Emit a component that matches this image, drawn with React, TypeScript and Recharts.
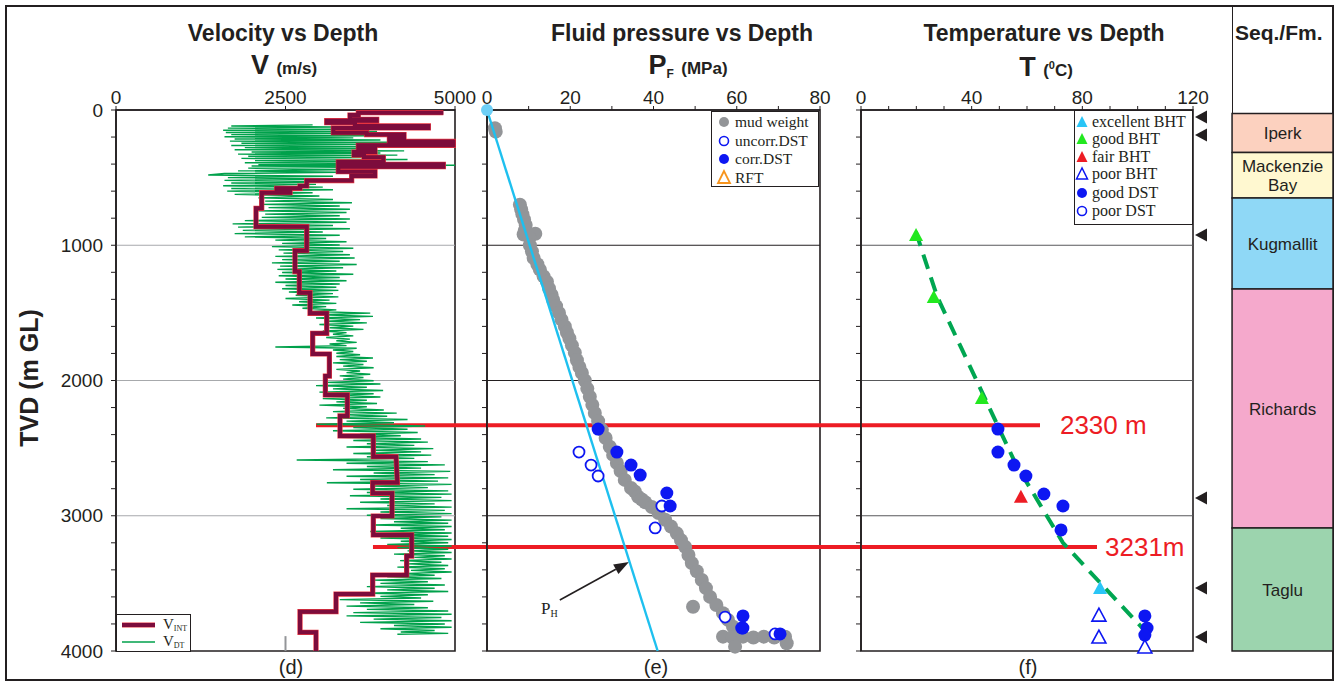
import React from "react";
import { ReferenceArea, ReferenceLine, Scatter, ScatterChart, XAxis, YAxis } from "recharts";

const INK = "#231f20";
const SANS = "Arial, 'Liberation Sans', Helvetica, sans-serif";
const SERIF = "'Times New Roman', 'Liberation Serif', serif";
const RED = "#ed1c24";
const BLUE = "#0d17f2";
const MUD = "#939598";
const CYAN = "#1ec0ef";
const VDT_GREEN = "#00a14b";
const VINT_RED = "#7d0c3c";
const TREND_GREEN = "#00a651";

// depth axis, shared by every track (m GL)
const depthTicks = [0, 200, 400, 600, 800, 1000, 1200, 1400, 1600, 1800, 2000, 2200, 2400, 2600, 2800, 3000, 3200, 3400, 3600, 3800, 4000];
const depthGrid = [1000, 2000, 3000];
const velocityTicks = [0, 2500, 5000];
const pressureTicks = [0, 10, 20, 30, 40, 50, 60, 70, 80];
const temperatureTicks = [0, 10, 20, 30, 40, 50, 60, 70, 80, 90, 100, 110, 120];

// red horizon lines
const horizonDepths = [2330, 3231];
const horizonLabels = ["2330 m", "3231m"];
const horizonStartV = [2950, 3790];
const horizonEndT = [64.7, 85.3];
const horizonLabelT = [71.9, 88.2];

// interval velocity, step path [velocity m/s, depth m]
const vintPath = [
  [4828, 20], [3574, 20], [3574, 37], [3451, 37], [3451, 69], [3845, 69], [3845, 79], [3108, 79],
  [3108, 94], [3525, 94], [3525, 118], [4607, 118], [4607, 133], [3206, 133], [3206, 168], [3697, 168],
  [3697, 182], [4248, 182], [4248, 207], [4032, 207], [4032, 232], [4976, 232], [4976, 261], [3574, 261],
  [3574, 286], [3820, 286], [3820, 311], [3511, 311], [3511, 333], [3658, 333], [3658, 350], [3943, 350],
  [3943, 384], [3279, 384], [3279, 402], [4828, 402], [4828, 419], [3279, 419], [3279, 456], [3820, 456],
  [3820, 488], [3476, 488], [3476, 522], [2813, 522], [2813, 562], [2714, 562], [2714, 579], [2370, 579],
  [2370, 596], [2567, 596], [2567, 611], [2149, 611], [2149, 727], [2065, 727], [2065, 863], [2813, 863],
  [2813, 1040], [2640, 1040], [2640, 1195], [2704, 1195], [2704, 1351], [2862, 1351], [2862, 1503], [3108, 1503],
  [3108, 1651], [2901, 1651], [2901, 1804], [3147, 1804], [3147, 1967], [3088, 1967], [3088, 2107], [3412, 2107],
  [3412, 2262], [3304, 2262], [3304, 2410], [3795, 2410], [3795, 2563], [4130, 2563], [4150, 2755], [3786, 2755],
  [3786, 2834], [4071, 2834], [4071, 3002], [3795, 3002], [3795, 3142], [4361, 3142], [4361, 3298], [4287, 3298],
  [4287, 3438], [3786, 3438], [3786, 3579], [3245, 3579], [3245, 3709], [2714, 3709], [2714, 3862], [2950, 3862],
  [2950, 4000],
];

// sonic log velocity [depth m, velocity m/s]
const vdtLog = [
  [110, 2900], [118, 1700], [126, 3200], [134, 1650], [142, 3600], [150, 1580], [158, 3850], [166, 1620],
  [174, 3300], [182, 1700], [190, 3700], [198, 1600], [206, 3500], [214, 1750], [222, 3900], [230, 1680],
  [238, 4200], [246, 1850], [254, 3600], [262, 1700], [270, 4300], [278, 1900], [286, 3800], [294, 1750],
  [302, 4250], [310, 2000], [318, 3900], [326, 1800], [334, 4150], [342, 1950], [350, 3700], [358, 1850],
  [366, 4300], [374, 2050], [382, 3900], [390, 1900], [398, 4340], [404, 2100], [408, 5000], [414, 2000],
  [422, 3800], [430, 1950], [440, 3500], [450, 1800], [460, 3300], [470, 1600], [481, 1360], [490, 3200],
  [500, 1650], [510, 3100], [520, 1600], [530, 3280], [540, 1700], [550, 2950], [560, 1580], [570, 3050],
  [580, 1700], [590, 3200], [600, 1640], [612, 2900], [624, 1750], [636, 3000], [650, 2100], [662, 3200],
  [674, 2200], [686, 3480], [698, 2150], [710, 3300], [722, 2250], [734, 3450], [746, 2100], [758, 3400],
  [770, 2200], [782, 3300], [794, 2150], [806, 3450], [818, 1900], [830, 3400], [842, 1720], [854, 3200],
  [866, 1800], [878, 3450], [890, 1870], [902, 3050], [914, 1750], [926, 3300], [938, 1900], [950, 3100],
  [962, 2350], [974, 3400], [986, 2450], [998, 3300], [1010, 2300], [1022, 3500], [1034, 2400], [1046, 3350],
  [1058, 2470], [1070, 3450], [1082, 2350], [1094, 3520], [1106, 2450], [1118, 3300], [1130, 2300], [1142, 3550],
  [1154, 2420], [1166, 3350], [1178, 2380], [1190, 3250], [1202, 2450], [1214, 3500], [1226, 2400], [1238, 3300],
  [1250, 2500], [1262, 3400], [1274, 2350], [1286, 3300], [1298, 2500], [1310, 3250], [1322, 2450], [1334, 3280],
  [1346, 2550], [1358, 3200], [1370, 2650], [1382, 3280], [1394, 2500], [1406, 3150], [1418, 2700], [1430, 3250],
  [1442, 2600], [1454, 3100], [1466, 2750], [1478, 3250], [1490, 2900], [1502, 3750], [1514, 3000], [1526, 3790],
  [1538, 2950], [1550, 3600], [1562, 3100], [1574, 3700], [1586, 3000], [1598, 3500], [1610, 3150], [1622, 3650],
  [1634, 3050], [1646, 3400], [1658, 3200], [1670, 3500], [1682, 3100], [1694, 3450], [1706, 3250], [1718, 3550],
  [1730, 3150], [1742, 3400], [1752, 2350], [1762, 3550], [1774, 3200], [1786, 3500], [1798, 3250], [1810, 3600],
  [1822, 3250], [1834, 3790], [1846, 3300], [1858, 3700], [1870, 3200], [1882, 3650], [1894, 3350], [1906, 3800],
  [1918, 3250], [1930, 3600], [1942, 3400], [1954, 3750], [1966, 3300], [1978, 3650], [1990, 3350], [2002, 3800],
  [2014, 3100], [2026, 3900], [2038, 2950], [2050, 3700], [2062, 3200], [2074, 3940], [2086, 3000], [2098, 3800],
  [2110, 3300], [2122, 3900], [2134, 3050], [2146, 3700], [2158, 3250], [2170, 3850], [2182, 3000], [2194, 3700],
  [2206, 3350], [2218, 3950], [2230, 3200], [2241, 4140], [2252, 3300], [2264, 4000], [2276, 3100], [2288, 4300],
  [2300, 3400], [2312, 4100], [2324, 2960], [2336, 4560], [2348, 3500], [2360, 4300], [2372, 3200], [2384, 4450],
  [2396, 3600], [2408, 4200], [2420, 3300], [2432, 4500], [2444, 3500], [2456, 4600], [2468, 3700], [2480, 4400],
  [2492, 3400], [2504, 4680], [2516, 3800], [2528, 4500], [2540, 3500], [2552, 4650], [2564, 3700], [2576, 4400],
  [2588, 2665], [2600, 4600], [2612, 3400], [2624, 4850], [2636, 3700], [2648, 4500], [2660, 3200], [2672, 4930],
  [2684, 3800], [2696, 4700], [2708, 3400], [2720, 4900], [2732, 3600], [2744, 4750], [2756, 3110], [2768, 4950],
  [2780, 3800], [2792, 4600], [2804, 3500], [2816, 4900], [2828, 3700], [2840, 4950], [2852, 3450], [2864, 4800],
  [2876, 3900], [2888, 4950], [2900, 3600], [2912, 4700], [2924, 4000], [2936, 4950], [2948, 3400], [2960, 4850],
  [2972, 3900], [2984, 4950], [2996, 3700], [3008, 4800], [3020, 3900], [3032, 4950], [3044, 4100], [3056, 4900],
  [3068, 3800], [3080, 4950], [3092, 4200], [3104, 4850], [3116, 3750], [3128, 4950], [3140, 4100], [3152, 4900],
  [3164, 3900], [3176, 4950], [3188, 4200], [3200, 4900], [3212, 4000], [3224, 4950], [3236, 4150], [3248, 4900],
  [3260, 4300], [3272, 4950], [3284, 4100], [3296, 4850], [3308, 4400], [3320, 4950], [3332, 4190], [3344, 4800],
  [3356, 4300], [3368, 4900], [3380, 4150], [3392, 4850], [3404, 4350], [3416, 4950], [3428, 4200], [3440, 4700],
  [3452, 4000], [3464, 4800], [3476, 3790], [3488, 4600], [3500, 3900], [3512, 4850], [3524, 3700], [3536, 4700],
  [3548, 4000], [3560, 4900], [3572, 3650], [3584, 4600], [3596, 3900], [3608, 4500], [3620, 3300], [3632, 4680],
  [3644, 3600], [3656, 4400], [3668, 3400], [3680, 4600], [3692, 3700], [3704, 4900], [3716, 3500], [3728, 4950],
  [3740, 3400], [3752, 4800], [3764, 3800], [3776, 4950], [3788, 3600], [3800, 4850], [3812, 4100], [3824, 4950],
  [3836, 3900], [3848, 4700], [3860, 4200], [3870, 4900], [3876, 4150],
];

// fluid pressure [MPa, depth m]
const mudWeight = [
  [1.9, 135], [2.1, 160], [7.9, 700], [8.2, 735], [8.5, 770], [8.9, 810], [9.3, 850], [9.1, 890], [8.8, 920],
  [11.6, 915], [10.2, 945], [10.3, 1000], [10.8, 1045], [11.2, 1095], [12.1, 1140], [12.7, 1180], [13.6, 1230],
  [14.4, 1270], [14.9, 1320], [15.5, 1365], [15.9, 1405], [16.6, 1450], [17.3, 1500], [17.9, 1550], [18.7, 1600],
  [19.2, 1645], [19.8, 1690], [20.4, 1740], [21.1, 1795], [21.6, 1850], [22.2, 1900], [22.8, 1945], [23.5, 2000],
  [24.1, 2060], [24.7, 2120], [25.3, 2180], [25.9, 2240], [26.7, 2300], [27.6, 2365], [28.5, 2425], [29.5, 2490],
  [30.3, 2550], [31.2, 2610], [32.1, 2670], [33.1, 2735], [34.6, 2795], [35.5, 2820], [36.3, 2860], [37.2, 2880],
  [38.0, 2900], [39.6, 2935], [41.2, 2980], [42.8, 3030], [44.2, 3080], [45.6, 3130], [46.6, 3180], [47.6, 3230],
  [48.4, 3290], [49.2, 3350], [50.4, 3410], [51.6, 3475], [52.6, 3535], [53.6, 3600], [55.1, 3660], [56.7, 3720],
  [57.9, 3770], [59.1, 3820], [49.5, 3673], [56.7, 3894], [59.0, 3900], [61.5, 3894], [64.0, 3900], [66.5, 3894],
  [69.0, 3900], [71.6, 3894], [72.0, 3943], [59.6, 3968],
];
const uncorrDst = [[22.1, 2529], [25.0, 2625], [26.7, 2706], [42.0, 2928], [40.4, 3090], [57.2, 3749], [61.5, 3830], [69.2, 3874]];
const corrDst = [[26.7, 2359], [31.2, 2529], [34.6, 2625], [36.8, 2699], [43.2, 2832], [44.0, 2928], [61.5, 3741], [61.2, 3830], [70.4, 3874]];
const hydrostatic = [[0, 0], [41.0, 4000]];
const hydroArrow = [[17.5, 3623], [34.1, 3342]];
const hydroLabel = [[13.0, 3726]];

// temperature [deg C, depth m]
const excellentBht = [[86.4, 3535]];
const goodBht = [[19.9, 924], [26.3, 1383], [43.7, 2129]];
const fairBht = [[57.8, 2860]];
const poorBht = [[86.0, 3735], [86.0, 3897], [102.6, 3970]];
const goodDst = [[49.5, 2359], [49.5, 2529], [55.3, 2625], [59.6, 2706], [66.1, 2839], [73.0, 2928], [72.3, 3105], [102.6, 3741], [103.4, 3830], [102.6, 3882]];
const poorDst: number[][] = [];
const tempTrend = [[19.8, 900], [27.6, 1383], [42.0, 2010], [56.0, 2620], [73.0, 3200], [103.5, 3870]];

// sequences / formations
const formationNames = ["Iperk", "Mackenzie Bay", "Kugmallit", "Richards", "Taglu"];
const formationTops = [25, 315, 651, 1323, 3090];
const formationBases = [315, 651, 1323, 3090, 4000];
const formationColors = ["#fcd1bf", "#fff8d0", "#8fd8f6", "#f5a9cc", "#9cd4ae"];
const pickDepths = [52, 185, 924, 2869, 3534, 3897];

const pts = (rows: number[][]) => rows.map(([x, y]) => ({ x, y }));
const depthRows = (rows: number[][]) => rows.map(([y, x]) => ({ x, y }));

const noDot = () => <g />;
const dot = (fill: string, r: number) => (p: any) => <circle cx={p.cx} cy={p.cy} r={r} fill={fill} />;
const ring = (stroke: string, r: number) => (p: any) => (
  <circle cx={p.cx} cy={p.cy} r={r} fill="#fff" stroke={stroke} strokeWidth={1.8} />
);
const tri = (color: string, open = false) => (p: any) => (
  <polygon
    points={`${p.cx},${p.cy - 7} ${p.cx - 7},${p.cy + 6} ${p.cx + 7},${p.cy + 6}`}
    fill={open ? "#fff" : color}
    stroke={open ? color : "none"}
    strokeWidth={1.6}
  />
);
const leftTri = (p: any) => (
  <polygon points={`${p.cx - 6},${p.cy} ${p.cx + 6},${p.cy - 6.5} ${p.cx + 6},${p.cy + 6.5}`} fill={INK} />
);
const redText = (p: any) => (
  <text x={p.cx} y={p.cy} dy="0.36em" fill={RED} fontSize={26} fontFamily={SANS}>
    {p.payload.label}
  </text>
);
const phText = (p: any) => (
  <text x={p.cx} y={p.cy} fill={INK} fontSize={17} fontFamily={SERIF}>
    P<tspan fontSize={10} dy={3}>H</tspan>
  </text>
);
const fmText = (p: any) => {
  const lines: string[] = p.payload.lines;
  return (
    <text x={p.cx} y={p.cy} textAnchor="middle" fill={INK} fontSize={17} fontFamily={SANS}>
      {lines.map((l, i) => (
        <tspan key={l} x={p.cx} dy={i === 0 ? `${0.36 - (lines.length - 1) * 0.58}em` : "1.16em"}>
          {l}
        </tspan>
      ))}
    </text>
  );
};
const arrowShape = (p: any) => {
  const { x1, y1, x2, y2 } = p;
  const a = Math.atan2(y2 - y1, x2 - x1);
  const bx = x2 - 15 * Math.cos(a);
  const by = y2 - 15 * Math.sin(a);
  const w = 5.5;
  return (
    <g>
      <line x1={x1} y1={y1} x2={bx} y2={by} stroke={INK} strokeWidth={1.6} />
      <polygon
        points={`${x2},${y2} ${bx - w * Math.sin(a)},${by + w * Math.cos(a)} ${bx + w * Math.sin(a)},${by - w * Math.cos(a)}`}
        fill={INK}
      />
    </g>
  );
};

const tickStyle = { fill: INK, fontSize: 19, fontFamily: SANS };
const axisLine = { stroke: INK, strokeWidth: 1.6 };

const depthAxis = (width: number, showLabels: boolean) => (
  <YAxis
    type="number"
    dataKey="y"
    domain={[0, 4000]}
    reversed
    ticks={depthTicks}
    interval={0}
    width={width}
    tickSize={5}
    tickMargin={8}
    axisLine={axisLine}
    tickLine={{ stroke: INK }}
    tick={tickStyle}
    tickFormatter={(v: number) => (showLabels && v % 1000 === 0 ? String(v) : "")}
  />
);

const topAxis = (max: number, ticks: number[], every: number) => (
  <XAxis
    type="number"
    dataKey="x"
    orientation="top"
    domain={[0, max]}
    ticks={ticks}
    interval={0}
    height={30}
    tickSize={4}
    axisLine={axisLine}
    tickLine={{ stroke: INK }}
    tick={tickStyle}
    tickFormatter={(v: number) => (v % every === 0 ? String(v) : "")}
  />
);

function Centered({ cx, cy, children, style }: { cx: number; cy: number; children: React.ReactNode; style?: React.CSSProperties }) {
  return (
    <div
      style={{
        position: "absolute",
        left: cx - 200,
        width: 400,
        top: cy - 16,
        height: 32,
        lineHeight: "32px",
        textAlign: "center",
        fontFamily: SANS,
        fontWeight: 700,
        color: INK,
        whiteSpace: "nowrap",
        ...style,
      }}
    >
      {children}
    </div>
  );
}

function VelocityTrack() {
  return (
    <div style={{ position: "absolute", left: 0, top: 0 }}>
      <ScatterChart width={490} height={682} margin={{ top: 80, right: 35, bottom: 31, left: 56 }}>
        {topAxis(5000, velocityTicks, 2500)}
        {depthAxis(60, true)}
        {depthGrid.map((d) => (
          <ReferenceLine key={d} y={d} stroke="#a7a9ac" strokeWidth={1.2} />
        ))}
        <Scatter data={depthRows(vdtLog)} shape={noDot} line={{ stroke: VDT_GREEN, strokeWidth: 1.4 }} lineJointType="linear" isAnimationActive={false} />
        <Scatter data={pts(vintPath)} shape={noDot} line={{ stroke: "#e8343f", strokeWidth: 5.2, strokeLinejoin: "miter" }} lineJointType="linear" isAnimationActive={false} />
        <Scatter data={pts(vintPath)} shape={noDot} line={{ stroke: VINT_RED, strokeWidth: 4, strokeLinejoin: "miter" }} lineJointType="linear" isAnimationActive={false} />
        <ReferenceLine segment={[{ x: 2500, y: 3890 }, { x: 2500, y: 4000 }]} stroke="#939598" strokeWidth={2} />
        {horizonDepths.map((d, i) => (
          <ReferenceLine key={d} segment={[{ x: horizonStartV[i], y: d }, { x: 5480, y: d }]} stroke={RED} strokeWidth={4} ifOverflow="visible" />
        ))}
        <ReferenceArea x1={0} x2={5000} y1={0} y2={4000} fill="none" fillOpacity={0} stroke={INK} strokeWidth={1.6} />
      </ScatterChart>
    </div>
  );
}

function PressureTrack() {
  return (
    <div style={{ position: "absolute", left: 460, top: 0 }}>
      <ScatterChart width={410} height={682} margin={{ top: 80, right: 50, bottom: 31, left: 17 }}>
        {topAxis(80, pressureTicks, 20)}
        {depthAxis(10, false)}
        {depthGrid.map((d) => (
          <ReferenceLine key={d} y={d} stroke={INK} strokeWidth={1.2} />
        ))}
        <Scatter data={pts(mudWeight)} shape={dot(MUD, 7)} isAnimationActive={false} />
        <Scatter data={pts(hydrostatic)} shape={noDot} line={{ stroke: CYAN, strokeWidth: 2.4 }} lineJointType="linear" isAnimationActive={false} />
        <Scatter data={pts(hydrostatic.slice(0, 1))} shape={dot("#6dcff6", 6)} isAnimationActive={false} />
        <Scatter data={pts(uncorrDst)} shape={ring(BLUE, 5.5)} isAnimationActive={false} />
        <Scatter data={pts(corrDst)} shape={dot(BLUE, 6.5)} isAnimationActive={false} />
        <ReferenceLine segment={pts(hydroArrow)} shape={arrowShape} />
        <Scatter data={pts(hydroLabel)} shape={phText} isAnimationActive={false} />
        {horizonDepths.map((d) => (
          <ReferenceLine key={d} segment={[{ x: 0, y: d }, { x: 90, y: d }]} stroke={RED} strokeWidth={4} ifOverflow="visible" />
        ))}
        <ReferenceArea x1={0} x2={80} y1={0} y2={4000} fill="none" fillOpacity={0} stroke={INK} strokeWidth={1.6} />
      </ScatterChart>
    </div>
  );
}

function TemperatureTrack() {
  const labels = horizonDepths.map((d, i) => ({ x: horizonLabelT[i], y: d, label: horizonLabels[i] }));
  return (
    <div style={{ position: "absolute", left: 835, top: 0 }}>
      <ScatterChart width={385} height={682} margin={{ top: 80, right: 27, bottom: 31, left: 16 }}>
        {topAxis(120, temperatureTicks, 40)}
        {depthAxis(10, false)}
        {depthGrid.map((d) => (
          <ReferenceLine key={d} y={d} stroke="#58595b" strokeWidth={1.2} />
        ))}
        {horizonDepths.map((d, i) => (
          <ReferenceLine key={d} segment={[{ x: 0, y: d }, { x: horizonEndT[i], y: d }]} stroke={RED} strokeWidth={4} />
        ))}
        <Scatter data={pts(tempTrend)} shape={noDot} line={{ stroke: TREND_GREEN, strokeWidth: 4, strokeDasharray: "15 9" }} lineJointType="linear" isAnimationActive={false} />
        <Scatter data={pts(goodDst)} shape={dot(BLUE, 6.5)} isAnimationActive={false} />
        <Scatter data={pts(poorDst)} shape={ring(BLUE, 5.5)} isAnimationActive={false} />
        <Scatter data={pts(goodBht)} shape={tri("#22e81f")} isAnimationActive={false} />
        <Scatter data={pts(excellentBht)} shape={tri("#29c5f6")} isAnimationActive={false} />
        <Scatter data={pts(fairBht)} shape={tri(RED)} isAnimationActive={false} />
        <Scatter data={pts(poorBht)} shape={tri(BLUE, true)} isAnimationActive={false} />
        <Scatter data={labels} shape={redText} isAnimationActive={false} />
        <ReferenceArea x1={0} x2={120} y1={0} y2={4000} fill="none" fillOpacity={0} stroke={INK} strokeWidth={1.6} />
      </ScatterChart>
    </div>
  );
}

function FormationColumn() {
  const names = formationNames.map((n, i) => ({
    x: 0.64,
    y: (formationTops[i] + formationBases[i]) / 2,
    lines: n === "Mackenzie Bay" ? ["Mackenzie", "Bay"] : [n],
  }));
  return (
    <div style={{ position: "absolute", left: 1193, top: 0 }}>
      <ScatterChart width={149} height={682} margin={{ top: 110, right: 9, bottom: 31, left: 0 }}>
        <XAxis type="number" dataKey="x" domain={[0, 1]} hide />
        <YAxis type="number" dataKey="y" domain={[0, 4000]} reversed hide />
        {formationNames.map((n, i) => (
          <ReferenceArea
            key={n}
            x1={0.279}
            x2={1}
            y1={formationTops[i]}
            y2={formationBases[i]}
            fill={formationColors[i]}
            fillOpacity={1}
            stroke={INK}
            strokeWidth={1.5}
          />
        ))}
        <Scatter data={pickDepths.map((d) => ({ x: 0.057, y: d }))} shape={leftTri} isAnimationActive={false} />
        <Scatter data={names} shape={fmText} isAnimationActive={false} />
      </ScatterChart>
    </div>
  );
}

const legendText = { fontFamily: SERIF, fontSize: 15.5, fill: INK };

function PressureLegend() {
  const rows = [
    { label: "mud weight", mark: <circle cx={12} cy={10} r={5} fill={MUD} /> },
    { label: "uncorr.DST", mark: <circle cx={12} cy={29} r={4.5} fill="#fff" stroke={BLUE} strokeWidth={1.6} /> },
    { label: "corr.DST", mark: <circle cx={12} cy={47} r={5} fill={BLUE} /> },
    { label: "RFT", mark: <polygon points="12,59 6,71 18,71" fill="none" stroke="#f7941d" strokeWidth={1.8} /> },
  ];
  const ys = [10, 29, 47, 66];
  return (
    <div style={{ position: "absolute", left: 711, top: 111, width: 108, height: 76, border: `1.5px solid ${INK}`, background: "#fff", boxSizing: "border-box" }}>
      <svg width={106} height={74} style={{ display: "block" }}>
        {rows.map((r, i) => (
          <g key={r.label}>
            {r.mark}
            <text x={23} y={ys[i]} dy="0.34em" {...legendText}>
              {r.label}
            </text>
          </g>
        ))}
      </svg>
    </div>
  );
}

function TemperatureLegend() {
  const t = (y: number, color: string, open = false) => (
    <polygon points={`7,${y - 6} 1.5,${y + 5} 12.5,${y + 5}`} fill={open ? "#fff" : color} stroke={open ? color : "none"} strokeWidth={1.5} />
  );
  const rows = [
    { label: "excellent BHT", mark: t(11, "#29c5f6") },
    { label: "good BHT", mark: t(28, "#22e81f") },
    { label: "fair BHT", mark: t(46, RED) },
    { label: "poor BHT", mark: t(63, BLUE, true) },
    { label: "good DST", mark: <circle cx={7} cy={82} r={5} fill={BLUE} /> },
    { label: "poor DST", mark: <circle cx={7} cy={100} r={4.5} fill="#fff" stroke={BLUE} strokeWidth={1.6} /> },
  ];
  const ys = [11, 28, 46, 63, 82, 100];
  return (
    <div style={{ position: "absolute", left: 1074, top: 110, width: 119, height: 115, border: `1.5px solid ${INK}`, background: "#fff", boxSizing: "border-box" }}>
      <svg width={117} height={113} style={{ display: "block" }}>
        {rows.map((r, i) => (
          <g key={r.label}>
            {r.mark}
            <text x={17} y={ys[i]} dy="0.34em" {...legendText} fontSize={16}>
              {r.label}
            </text>
          </g>
        ))}
      </svg>
    </div>
  );
}

function VelocityLegend() {
  return (
    <div style={{ position: "absolute", left: 116, top: 614, width: 75, height: 38, border: `1.5px solid ${INK}`, background: "#fff", boxSizing: "border-box" }}>
      <svg width={73} height={36} style={{ display: "block" }}>
        <line x1={5} y1={10} x2={38} y2={10} stroke="#e8343f" strokeWidth={5} />
        <line x1={5} y1={10} x2={38} y2={10} stroke={VINT_RED} strokeWidth={3.8} />
        <line x1={5} y1={27} x2={38} y2={27} stroke={VDT_GREEN} strokeWidth={1.5} />
        <text x={46} y={14} fontFamily={SERIF} fontSize={15} fill={INK}>
          V<tspan fontSize={8} dy={2}>INT</tspan>
        </text>
        <text x={46} y={31} fontFamily={SERIF} fontSize={15} fill={INK}>
          V<tspan fontSize={8} dy={2}>DT</tspan>
        </text>
      </svg>
    </div>
  );
}

export default function App() {
  return (
    <div style={{ position: "absolute", left: 0, top: 0, width: 1342, height: 682, background: "#fff", overflow: "hidden" }}>
      <div style={{ position: "absolute", left: 5, top: 5, width: 1329, height: 676, border: `2px solid ${INK}`, boxSizing: "border-box" }} />
      <div style={{ position: "absolute", left: 1232, top: 5, width: 0, height: 109, borderLeft: `1.5px solid ${INK}` }} />

      <VelocityTrack />
      <PressureTrack />
      <TemperatureTrack />
      <FormationColumn />
      <VelocityLegend />
      <PressureLegend />
      <TemperatureLegend />

      <Centered cx={283} cy={33} style={{ fontSize: 23 }}>Velocity vs Depth</Centered>
      <Centered cx={284} cy={65} style={{ fontSize: 27 }}>
        V <span style={{ fontSize: 17 }}>(m/s)</span>
      </Centered>
      <Centered cx={682} cy={33} style={{ fontSize: 23 }}>Fluid pressure vs Depth</Centered>
      <Centered cx={688} cy={65} style={{ fontSize: 27 }}>
        P<span style={{ fontSize: 12, verticalAlign: "-4px" }}>F</span> <span style={{ fontSize: 17 }}>(MPa)</span>
      </Centered>
      <Centered cx={1044} cy={33} style={{ fontSize: 23 }}>Temperature vs Depth</Centered>
      <Centered cx={1046} cy={65} style={{ fontSize: 27 }}>
        T <span style={{ fontSize: 17 }}>(<sup style={{ fontSize: 11 }}>0</sup>C)</span>
      </Centered>
      <div style={{ position: "absolute", left: 1235, top: 19, fontFamily: SANS, fontWeight: 700, fontSize: 21, color: INK, whiteSpace: "nowrap", lineHeight: "28px" }}>
        Seq./Fm.
      </div>

      <div
        style={{
          position: "absolute",
          left: 29 - 100,
          top: 378 - 16,
          width: 200,
          height: 32,
          lineHeight: "32px",
          textAlign: "center",
          transform: "rotate(-90deg)",
          fontFamily: SANS,
          fontWeight: 700,
          fontSize: 25,
          color: INK,
          whiteSpace: "nowrap",
        }}
      >
        TVD (m GL)
      </div>

      <Centered cx={291} cy={667} style={{ fontSize: 20, fontWeight: 400 }}>(d)</Centered>
      <Centered cx={656} cy={667} style={{ fontSize: 20, fontWeight: 400 }}>(e)</Centered>
      <Centered cx={1028} cy={667} style={{ fontSize: 20, fontWeight: 400 }}>(f)</Centered>
    </div>
  );
}
